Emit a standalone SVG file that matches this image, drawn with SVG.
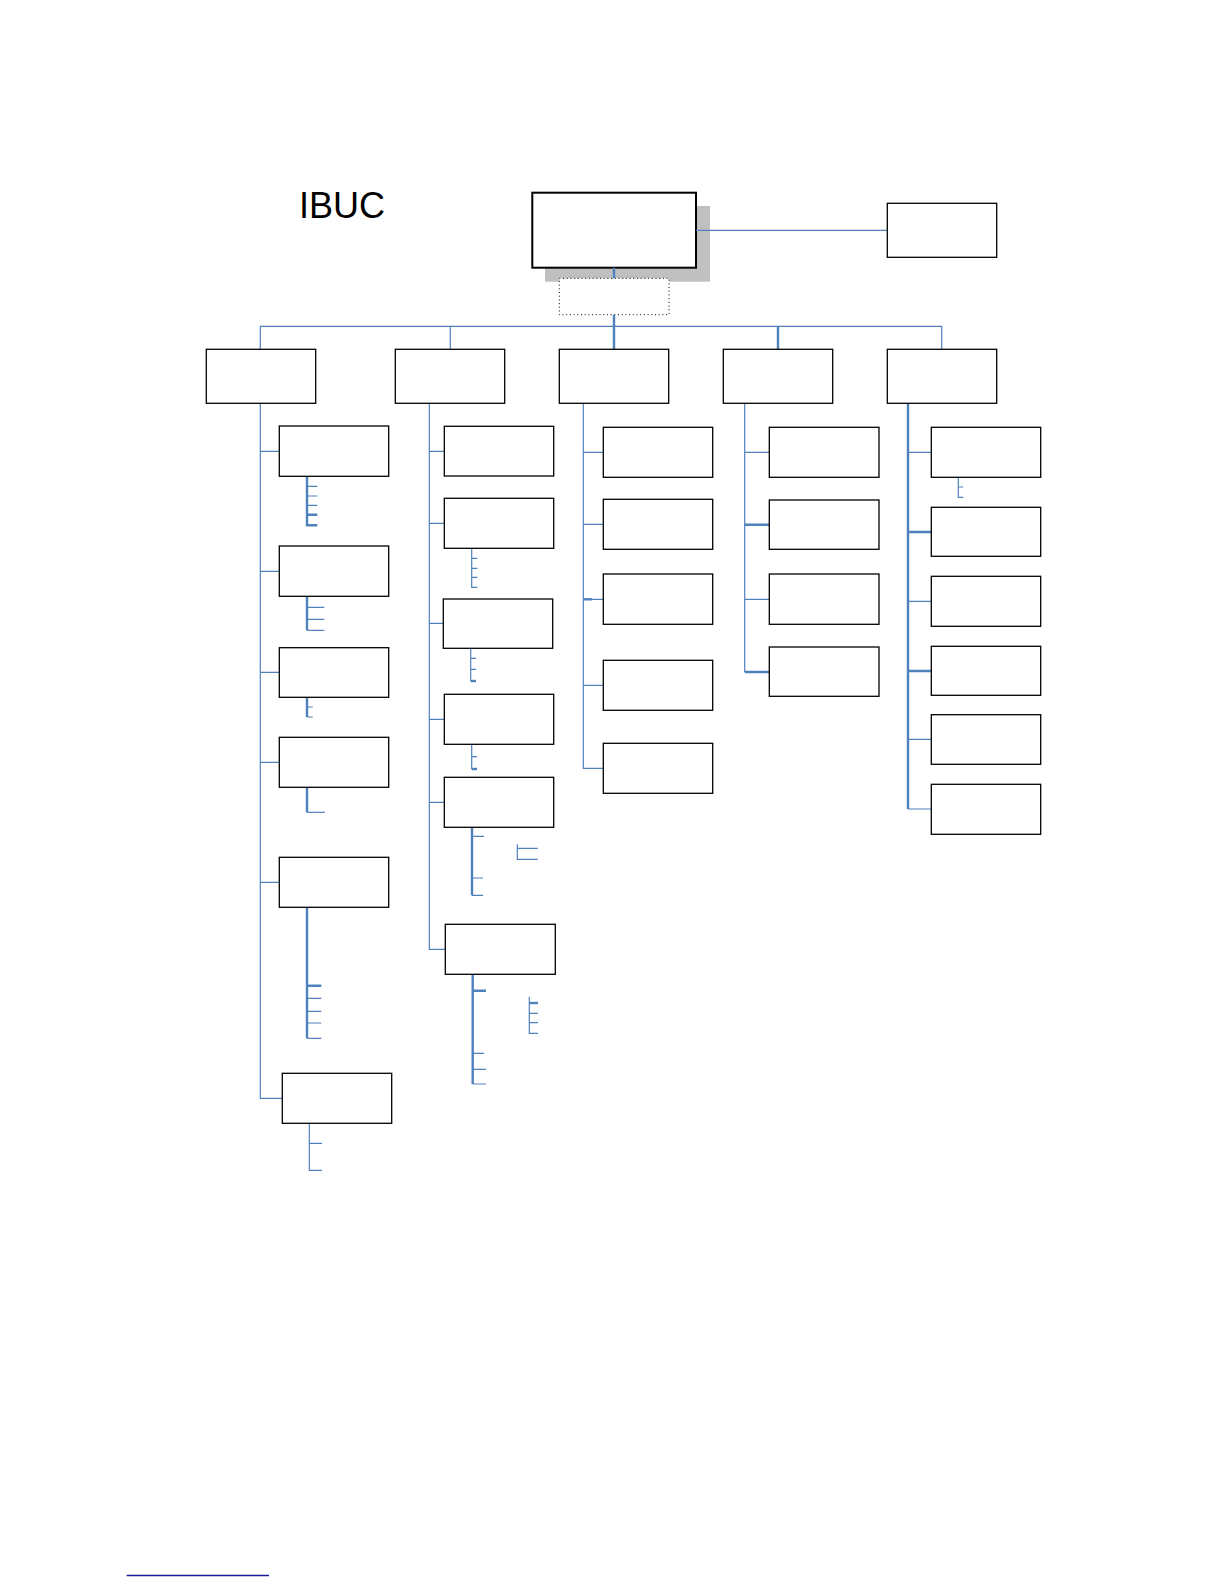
<svg xmlns="http://www.w3.org/2000/svg" width="1224" height="1584" viewBox="0 0 1224 1584">
<style>
.box{fill:#fff;stroke:#000;stroke-width:1.3}
.c{fill:none;stroke:#4F81BD;stroke-width:1.2}
.ct{fill:none;stroke:#4F81BD;stroke-width:2.4}
</style>
<rect width="1224" height="1584" fill="#fff"/>
<text x="299" y="218" font-family="Liberation Sans, Arial, sans-serif" font-size="36" fill="#000">IBUC</text>
<g id="top">
<rect x="545" y="206" width="165" height="75.7" fill="#c0c0c0"/>
<rect x="532.3" y="192.7" width="163.7" height="75" fill="#fff" stroke="#000" stroke-width="2"/>
</g>
<g id="assistant"><rect x="559.3" y="278.3" width="109.7" height="36.4" fill="#fff" stroke="#000" stroke-width="1" stroke-dasharray="1,2.7"/></g>
<g id="connectors">
<path class="c" d="M696 230.3H887.3"/>
<path class="ct" d="M614 267.7V278.3M614 314.7V349.3M778 326.3V349.3"/>
<path class="c" d="M260.3 349.3V326.3H941.7V349.3M450.3 326.3V349.3"/>
<!-- col1 -->
<path class="c" d="M260.3 403.3V1098.3H282.3M260.3 451.3H279.3M260.3 571.3H279.3M260.3 672.3H279.3M260.3 762.3H279.3M260.3 882.3H279.3"/>
<path class="ct" d="M307 476.3V525.3H317.3M307 514.7H317.3"/>
<path class="c" d="M307 486.3H317.3M307 496H317.3M307 505.3H317.3"/>
<path class="ct" d="M307 596.3V630.3"/>
<path class="c" d="M307 607.3H324.3M307 619.3H324.3M307 630.3H324.3"/>
<path class="ct" d="M307 697.3V717"/>
<path class="c" d="M307 707H312.7M307 717H312.7"/>
<path class="ct" d="M307 787.3V812.3"/>
<path class="c" d="M307 812.3H325"/>
<path class="ct" d="M307 907.3V1038.3M307 985.7H321.3"/>
<path class="c" d="M307 998.3H321.3M307 1011.3H321.3M307 1023H321.3M307 1038.3H321.3"/>
<path class="c" d="M309.3 1123.3V1170.3H322M309.3 1143.3H322"/>
<!-- col2 -->
<path class="c" d="M429.3 403.3V949.3H445.3M429.3 451.3H444.3M429.3 523.3H444.3M429.3 623.3H443.3M429.3 719.3H444.3M429.3 802.3H444.3"/>
<path class="c" d="M471.7 548.3V587.3H477.3M471.7 558.3H477.3M471.7 568.3H477.3M471.7 577.3H477.3"/>
<path class="c" d="M470.7 648.3V681M470.7 658.3H476M470.7 669.3H476"/>
<path class="ct" d="M470.7 681H476"/>
<path class="c" d="M471.7 744.3V769M471.7 756.7H477"/>
<path class="ct" d="M471.7 769H477"/>
<path class="ct" d="M472 827.3V895.3"/>
<path class="c" d="M472 836.3H484M472 878H483M472 895.3H483"/>
<path class="c" d="M517.3 844.3V859.3H537.7M517.3 848.3H537.7"/>
<path class="ct" d="M472.7 974.3V1084M472.7 990.7H486"/>
<path class="c" d="M472.7 1053.3H484M472.7 1069.3H486M472.7 1084H486"/>
<path class="c" d="M529.3 996.7V1033.3H538M529.3 1013.3H538M529.3 1022.7H538"/>
<path class="ct" d="M529.3 1003H538"/>
<!-- col3 -->
<path class="c" d="M583.3 403.3V768.3H603.3M583.3 452.3H603.3M583.3 524.3H603.3M583.3 599.3H603.3M583.3 685.3H603.3"/>
<path class="ct" d="M583.3 599.3H592"/>
<!-- col4 -->
<path class="c" d="M744.7 403.3V672M744.7 452.3H769.3M744.7 599.3H769.3"/>
<path class="ct" d="M744.7 524.7H769.3M744.7 672H769.3"/>
<!-- col5 -->
<path class="ct" d="M908 403.3V809M908 532H931.3M908 671H931.3"/>
<path class="c" d="M908 452.3H931.3M908 601.3H931.3M908 739.3H931.3M908 809H931.3"/>
<path class="c" d="M958.3 477.3V497.3H963.3M958.3 487H963.3"/>
</g>
<g id="side"><rect class="box" x="887.3" y="203.3" width="109.4" height="54"/></g>
<g id="l1-1"><rect class="box" x="206.3" y="349.3" width="109.4" height="54"/></g>
<g id="l1-2"><rect class="box" x="395.3" y="349.3" width="109.4" height="54"/></g>
<g id="l1-3"><rect class="box" x="559.3" y="349.3" width="109.4" height="54"/></g>
<g id="l1-4"><rect class="box" x="723.3" y="349.3" width="109.4" height="54"/></g>
<g id="l1-5"><rect class="box" x="887.3" y="349.3" width="109.4" height="54"/></g>
<g id="c1-1"><rect class="box" x="279.3" y="426" width="109.4" height="50.3"/></g>
<g id="c1-2"><rect class="box" x="279.3" y="546" width="109.4" height="50.3"/></g>
<g id="c1-3"><rect class="box" x="279.3" y="647.7" width="109.4" height="49.6"/></g>
<g id="c1-4"><rect class="box" x="279.3" y="737.3" width="109.4" height="50"/></g>
<g id="c1-5"><rect class="box" x="279.3" y="857.3" width="109.4" height="50"/></g>
<g id="c1-6"><rect class="box" x="282.3" y="1073.3" width="109.4" height="50"/></g>
<g id="c2-1"><rect class="box" x="444.3" y="426.3" width="109.4" height="49.7"/></g>
<g id="c2-2"><rect class="box" x="444.3" y="498.3" width="109.4" height="50"/></g>
<g id="c2-3"><rect class="box" x="443.3" y="599" width="109.4" height="49.3"/></g>
<g id="c2-4"><rect class="box" x="444.3" y="694.3" width="109.4" height="50"/></g>
<g id="c2-5"><rect class="box" x="444.3" y="777.3" width="109.4" height="50"/></g>
<g id="c2-6"><rect class="box" x="445.3" y="924.3" width="110" height="50"/></g>
<g id="c3-1"><rect class="box" x="603.3" y="427.3" width="109.4" height="50"/></g>
<g id="c3-2"><rect class="box" x="603.3" y="499.3" width="109.4" height="50"/></g>
<g id="c3-3"><rect class="box" x="603.3" y="574" width="109.4" height="50.3"/></g>
<g id="c3-4"><rect class="box" x="603.3" y="660.3" width="109.4" height="50"/></g>
<g id="c3-5"><rect class="box" x="603.3" y="743.3" width="109.4" height="50"/></g>
<g id="c4-1"><rect class="box" x="769.3" y="427.3" width="109.7" height="50"/></g>
<g id="c4-2"><rect class="box" x="769.3" y="500" width="109.7" height="49.3"/></g>
<g id="c4-3"><rect class="box" x="769.3" y="574" width="109.7" height="50.3"/></g>
<g id="c4-4"><rect class="box" x="769.3" y="647" width="109.7" height="49.3"/></g>
<g id="c5-1"><rect class="box" x="931.3" y="427.3" width="109.4" height="50"/></g>
<g id="c5-2"><rect class="box" x="931.3" y="507.3" width="109.4" height="49"/></g>
<g id="c5-3"><rect class="box" x="931.3" y="576.3" width="109.4" height="50"/></g>
<g id="c5-4"><rect class="box" x="931.3" y="646.3" width="109.4" height="49"/></g>
<g id="c5-5"><rect class="box" x="931.3" y="714.7" width="109.4" height="49.6"/></g>
<g id="c5-6"><rect class="box" x="931.3" y="784.3" width="109.4" height="50"/></g>
<path d="M126.7 1575.5H269" stroke="#1a1a99" stroke-width="1.3"/>
</svg>
